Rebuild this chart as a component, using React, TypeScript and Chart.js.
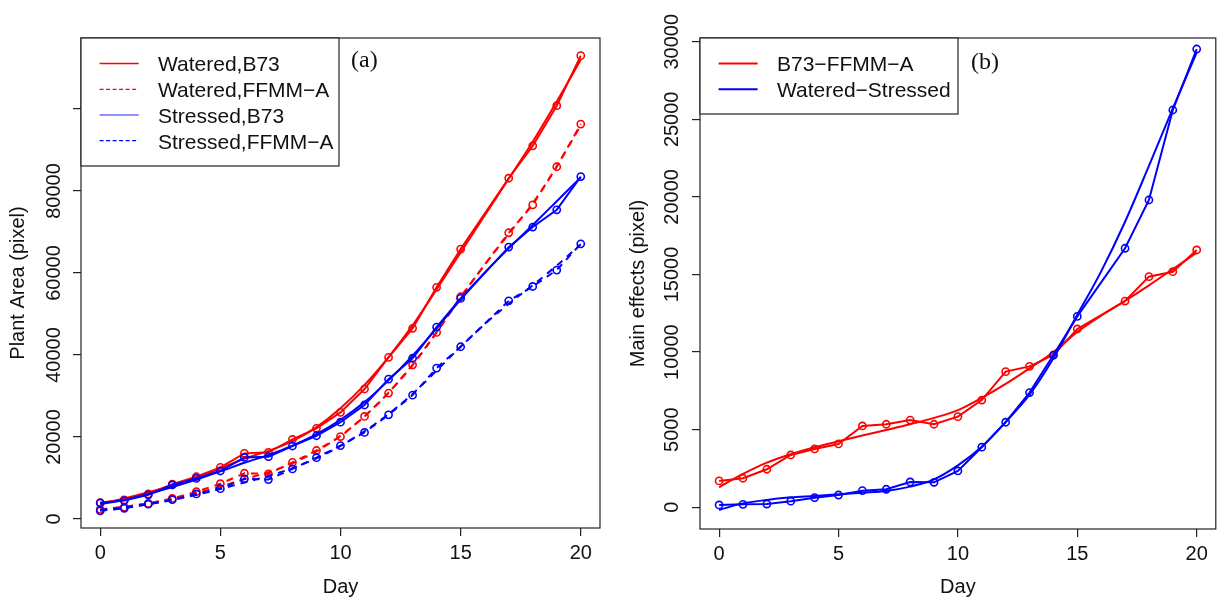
import React, { useEffect, useRef } from "react";
import { Chart, registerables } from "chart.js";
Chart.register(...registerables);

const FONT = "'Liberation Sans', Arial, Helvetica, sans-serif";
const SERIF = "'Liberation Serif', 'Times New Roman', serif";

// Days
const obsDays = [0, 1, 2, 3, 4, 5, 6, 7, 8, 9, 10, 11, 12, 13, 14, 15, 17, 18, 19, 20];
const fitDays = [0, 1, 2, 3, 4, 5, 6, 7, 8, 9, 10, 11, 12, 13, 14, 15, 16, 17, 18, 19, 20];
const xTicks = [0, 5, 10, 15, 20];

// Panel (a): plant area (pixel)
const wateredB73Obs = [4000, 4650, 6100, 8500, 10300, 12600, 16000, 16250, 19400, 22100, 26000, 31700, 39400, 46500, 56500, 65800, 83100, 91000, 100800, 113000];
const wateredFFMMObs = [2350, 2900, 3800, 5000, 6650, 8600, 11150, 11000, 13800, 16700, 20100, 25000, 30700, 37600, 45500, 54200, 69800, 76600, 85900, 96300];
const stressedB73Obs = [3900, 4500, 5900, 8300, 9900, 11700, 15000, 15200, 17800, 20300, 23600, 27800, 34100, 39200, 46800, 53800, 66300, 71200, 75400, 83500];
const stressedFFMMObs = [2000, 2600, 3600, 4700, 6100, 7400, 9800, 9600, 12200, 14950, 17900, 21100, 25400, 30200, 36800, 42000, 53200, 56700, 60700, 67100];

const wateredB73Fit = [3700, 5000, 6500, 8200, 10100, 12300, 14700, 16600, 19000, 22400, 27000, 32700, 39500, 47200, 56000, 65000, 74000, 83000, 92000, 101800, 112000];
const wateredFFMMFit = [2300, 3000, 3800, 4900, 6300, 7900, 9700, 11400, 13600, 16500, 20300, 25000, 30800, 37500, 45500, 54000, 62000, 69500, 77000, 86000, 96000];
const stressedB73Fit = [3600, 4700, 6100, 7800, 9600, 11600, 13700, 15600, 17900, 20700, 24200, 28500, 33800, 39800, 46500, 53500, 60000, 66000, 71700, 77500, 83300];
const stressedFFMMFit = [2200, 2800, 3600, 4600, 5900, 7300, 8900, 10500, 12400, 14800, 17800, 21400, 25600, 30500, 36200, 42000, 47500, 52500, 57000, 61800, 67000];

const yTicksA = [0, 20000, 40000, 60000, 80000, 100000];
const yTickLabelsA = ["0", "20000", "40000", "60000", "80000", ""];
const legendA = ["Watered,B73", "Watered,FFMM\u2212A", "Stressed,B73", "Stressed,FFMM\u2212A"];

// Panel (b): main effects (pixel)
const b73EffObs = [1700, 1870, 2450, 3370, 3760, 4080, 5240, 5350, 5620, 5350, 5840, 6910, 8740, 9080, 9810, 11490, 13290, 14860, 15180, 16580];
const wsEffObs = [150, 190, 210, 390, 620, 790, 1070, 1160, 1630, 1610, 2340, 3870, 5480, 7390, 9810, 12300, 16690, 19800, 25600, 29530];
const b73EffFit = [1290, 2150, 2880, 3420, 3870, 4250, 4620, 4980, 5350, 5760, 6260, 7050, 7950, 8950, 10000, 11300, 12350, 13300, 14300, 15350, 16400];
const wsEffFit = [-170, 250, 470, 640, 730, 840, 940, 1050, 1330, 1800, 2700, 3900, 5500, 7250, 9600, 12400, 15200, 18400, 22000, 25700, 29300];

const yTicksB = [0, 5000, 10000, 15000, 20000, 25000, 30000];
const yTickLabelsB = ["0", "5000", "10000", "15000", "20000", "25000", "30000"];
const legendB = ["B73\u2212FFMM\u2212A", "Watered\u2212Stressed"];

const RED = "#ff0000";
const BLUE = "#0000ff";
const DASH = [7, 6];

function pts(days: number[], vals: number[]) {
  return days.map((d, i) => ({ x: d, y: vals[i] }));
}

function obsSet(vals: number[], color: string, dashed: boolean) {
  return {
    data: pts(obsDays, vals),
    borderColor: color,
    backgroundColor: "rgba(0,0,0,0)",
    borderWidth: 2,
    borderDash: dashed ? DASH : [],
    pointRadius: 3.6,
    pointBorderWidth: 1.6,
    pointBorderColor: color,
    pointBackgroundColor: "rgba(0,0,0,0)",
    pointHoverRadius: 0,
    tension: 0,
  };
}

function fitSet(vals: number[], color: string, dashed: boolean) {
  return {
    data: pts(fitDays, vals),
    borderColor: color,
    backgroundColor: "rgba(0,0,0,0)",
    borderWidth: 2,
    borderDash: dashed ? DASH : [],
    pointRadius: 0,
    pointHoverRadius: 0,
    cubicInterpolationMode: "monotone",
  };
}

type LegendItem = { text: string; color: string; dash: number[]; width: number };

type PanelCfg = {
  yLabels: string[];
  yLabelX: number;
  legendBox: [number, number, number, number];
  legendItems: LegendItem[];
  rowY: number[];
  lineX: [number, number];
  textX: number;
  tag: string;
  tagX: number;
  tagY: number;
};

function makePlugin(cfg: PanelCfg) {
  return {
    id: "rstyle",
    afterDraw(chart: any) {
      const { ctx, chartArea: a } = chart;
      ctx.save();
      // frame
      ctx.strokeStyle = "#222";
      ctx.lineWidth = 1.2;
      ctx.setLineDash([]);
      ctx.strokeRect(a.left, a.top, a.right - a.left, a.bottom - a.top);
      // rotated y tick labels
      const ys = chart.scales.y;
      ctx.fillStyle = "#111";
      ctx.font = `20px ${FONT}`;
      ctx.textAlign = "center";
      ctx.textBaseline = "alphabetic";
      ys.ticks.forEach((t: any, i: number) => {
        const label = cfg.yLabels[i];
        if (!label) return;
        const y = ys.getPixelForValue(t.value);
        ctx.save();
        ctx.translate(cfg.yLabelX, y);
        ctx.rotate(-Math.PI / 2);
        ctx.fillText(label, 0, 0);
        ctx.restore();
      });
      // legend
      const [lx, ly, lw, lh] = cfg.legendBox;
      ctx.fillStyle = "#fff";
      ctx.fillRect(lx, ly, lw, lh);
      ctx.strokeStyle = "#222";
      ctx.lineWidth = 1.2;
      ctx.strokeRect(lx, ly, lw, lh);
      ctx.font = `21px ${FONT}`;
      ctx.textAlign = "left";
      ctx.textBaseline = "alphabetic";
      cfg.legendItems.forEach((it, i) => {
        const y = cfg.rowY[i];
        ctx.strokeStyle = it.color;
        ctx.lineWidth = it.width;
        ctx.setLineDash(it.dash);
        ctx.beginPath();
        ctx.moveTo(cfg.lineX[0], y);
        ctx.lineTo(cfg.lineX[1], y);
        ctx.stroke();
        ctx.setLineDash([]);
        ctx.fillStyle = "#111";
        ctx.fillText(it.text, cfg.textX, y + 7.8);
      });
      // panel tag
      ctx.font = `24px ${SERIF}`;
      ctx.fillStyle = "#111";
      ctx.fillText(cfg.tag, cfg.tagX, cfg.tagY);
      ctx.restore();
    },
  };
}

function PanelChart(props: {
  width: number;
  left: number;
  datasets: any[];
  yMin: number;
  yMax: number;
  yTicks: number[];
  yTitle: string;
  yWidth: number;
  yTitlePad: number;
  xHeight: number;
  padRight: number;
  cfg: PanelCfg;
}) {
  const ref = useRef<HTMLCanvasElement | null>(null);
  useEffect(() => {
    if (!ref.current) return;
    const chart = new Chart(ref.current, {
      type: "line",
      data: { datasets: props.datasets },
      options: {
        animation: false,
        responsive: false,
        devicePixelRatio: 1,
        layout: { padding: { top: 38, right: props.padRight, left: 0, bottom: 0 } },
        plugins: { legend: { display: false }, tooltip: { enabled: false }, title: { display: false } },
        scales: {
          x: {
            type: "linear",
            min: -0.8,
            max: 20.8,
            afterBuildTicks: (s: any) => {
              s.ticks = xTicks.map((v) => ({ value: v }));
            },
            afterFit: (s: any) => {
              s.height = props.xHeight;
            },
            ticks: { color: "#111", font: { family: FONT, size: 20 }, padding: 5, maxRotation: 0, autoSkip: false },
            grid: { drawOnChartArea: false, drawTicks: true, tickLength: 8, color: "#222", lineWidth: 1.2 },
            border: { display: false },
            title: { display: true, text: "Day", color: "#111", font: { family: FONT, size: 20 }, padding: { top: 0, bottom: 0 } },
          },
          y: {
            type: "linear",
            min: props.yMin,
            max: props.yMax,
            afterBuildTicks: (s: any) => {
              s.ticks = props.yTicks.map((v) => ({ value: v }));
            },
            afterFit: (s: any) => {
              s.width = props.yWidth;
            },
            ticks: { display: false },
            grid: { drawOnChartArea: false, drawTicks: true, tickLength: 8, color: "#222", lineWidth: 1.2 },
            border: { display: false },
            title: { display: true, text: props.yTitle, color: "#111", font: { family: FONT, size: 20 }, padding: { top: props.yTitlePad, bottom: 0 } },
          },
        },
      },
      plugins: [makePlugin(props.cfg)],
    } as any);
    return () => chart.destroy();
  }, []);
  return (
    <canvas
      ref={ref}
      width={props.width}
      height={599}
      style={{ position: "absolute", left: props.left, top: 0, width: props.width, height: 599 }}
    />
  );
}

export default function App() {
  const datasetsA = [
    obsSet(stressedB73Obs, BLUE, false),
    fitSet(stressedB73Fit, BLUE, false),
    obsSet(stressedFFMMObs, BLUE, true),
    fitSet(stressedFFMMFit, BLUE, true),
    obsSet(wateredB73Obs, RED, false),
    fitSet(wateredB73Fit, RED, false),
    obsSet(wateredFFMMObs, RED, true),
    fitSet(wateredFFMMFit, RED, true),
  ];
  const datasetsB = [
    obsSet(wsEffObs, BLUE, false),
    fitSet(wsEffFit, BLUE, false),
    obsSet(b73EffObs, RED, false),
    fitSet(b73EffFit, RED, false),
  ];
  const cfgA: PanelCfg = {
    yLabels: yTickLabelsA,
    yLabelX: 60,
    legendBox: [81, 38, 258, 128],
    legendItems: [
      { text: legendA[0], color: RED, dash: [], width: 1.5 },
      { text: legendA[1], color: RED, dash: [4, 2.5], width: 1.3 },
      { text: legendA[2], color: "rgba(60,60,255,0.75)", dash: [], width: 1.5 },
      { text: legendA[3], color: BLUE, dash: [4, 2.5], width: 1.3 },
    ],
    rowY: [63.5, 89.3, 115, 140.7],
    lineX: [99.6, 138.7],
    textX: 158,
    tag: "(a)",
    tagX: 351,
    tagY: 67,
  };
  const cfgB: PanelCfg = {
    yLabels: yTickLabelsB,
    yLabelX: 68,
    legendBox: [90, 38, 258, 76],
    legendItems: [
      { text: legendB[0], color: RED, dash: [], width: 2 },
      { text: legendB[1], color: BLUE, dash: [], width: 2 },
    ],
    rowY: [63.5, 89.3],
    lineX: [108.6, 147.6],
    textX: 167,
    tag: "(b)",
    tagX: 361,
    tagY: 68.5,
  };
  return (
    <div style={{ position: "fixed", left: 0, top: 0, width: 1221, height: 599, background: "#fff", overflow: "hidden" }}>
      <PanelChart
        width={610}
        left={0}
        datasets={datasetsA}
        yMin={-2200}
        yMax={117300}
        yTicks={yTicksA}
        yTitle="Plant Area (pixel)"
        yWidth={81}
        yTitlePad={6}
        xHeight={71}
        padRight={10}
        cfg={cfgA}
      />
      <PanelChart
        width={611}
        left={610}
        datasets={datasetsB}
        yMin={-1400}
        yMax={30240}
        yTicks={yTicksB}
        yTitle="Main effects (pixel)"
        yWidth={90}
        yTitlePad={16}
        xHeight={70}
        padRight={4}
        cfg={cfgB}
      />
    </div>
  );
}
